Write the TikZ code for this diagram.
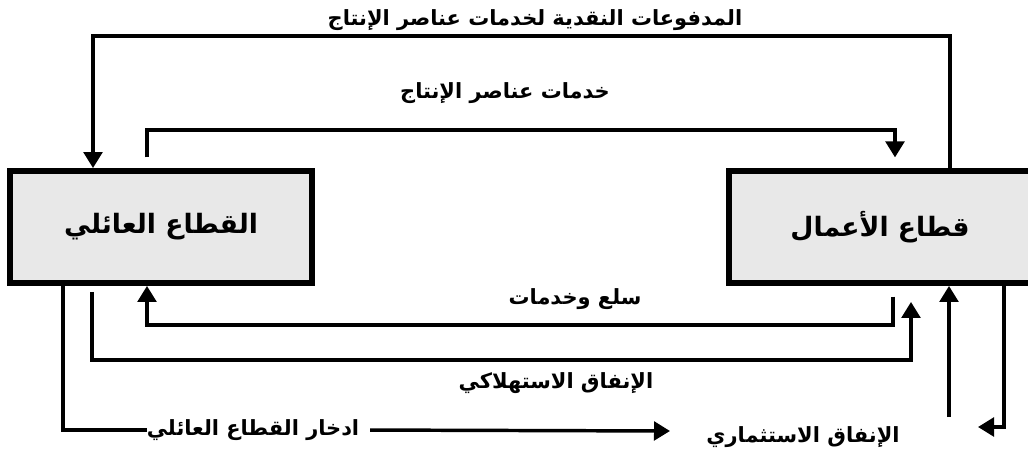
\documentclass[tikz,border=0pt]{standalone}
\usepackage{fontspec}
\newfontfamily\arabicfont[Script=Arabic]{DejaVu Sans}
\TeXXeTstate=1
\usetikzlibrary{arrows.meta}

\tikzset{
  sector/.style={draw, line width=4.4pt, fill=black!9, minimum width=227pt, minimum height=84pt,
    font=\arabicfont\bfseries\fontsize{20}{24}\selectfont},
  lbl/.style={inner sep=0pt, font=\arabicfont\bfseries\fontsize{15.7}{19}\selectfont},
  link/.style={line width=2.6pt},
  flow/.style={link, -{Triangle[length=12pt,width=14pt]}},
}

\begin{document}
\begin{tikzpicture}[x=0.75pt,y=-0.75pt]
    \useasboundingbox (0,0) rectangle (1028,460);
    %%%%%%%%%% Settori %%%%%%%%%%
    \node[sector] (house) at (161,227) {\beginR القطاع العائلي\endR};
    \node[sector] (biz)   at (880,227) {\beginR قطاع الأعمال\endR};

    %%%%%%%%%% Etichette %%%%%%%%%%
    \node[lbl] (pay) at (535,20)  {\beginR المدفوعات النقدية لخدمات عناصر الإنتاج\endR};
    \node[lbl] (srv) at (505,93)  {\beginR خدمات عناصر الإنتاج\endR};
    \node[lbl] (gds) at (575,299) {\beginR سلع وخدمات\endR};
    \node[lbl] (con) at (556,383) {\beginR الإنفاق الاستهلاكي\endR};
    \node[lbl] (sav) at (253,430) {\beginR ادخار القطاع العائلي\endR};
    \node[lbl] (inv) at (803,437) {\beginR الإنفاق الاستثماري\endR};

    %%%%%%%%%% Punti di snodo %%%%%%%%%%
    \coordinate (payR) at (950,36);
    \coordinate (payL) at (93,36);
    \coordinate (srvL) at (147,130);
    \coordinate (srvR) at (895,130);
    \coordinate (gdsR) at (893,325);
    \coordinate (gdsL) at (147,325);
    \coordinate (conL) at (92,360);
    \coordinate (conR) at (911,360);
    \coordinate (savL) at (63,431);
    \coordinate (savR) at (670,431);
    \coordinate (invB) at (949,417);
    \coordinate (retB) at (1004,427);
    \coordinate (retL) at (978,427);

    %%%%%%%%%% Flussi %%%%%%%%%%
    \draw[flow] (biz.north -| payR) |- (payL) -- (house.north -| payL);
    \draw[flow, shorten <=8pt, shorten >=8pt] (house.north -| srvL) |- (srvR) -- (biz.north -| srvR);
    \draw[flow, shorten <=8pt] (biz.south -| gdsR) |- (gdsL) -- (house.south -| gdsL);
    \draw[flow, shorten <=4.5pt, shorten >=12pt] (house.south -| conL) |- (conR) -- (biz.south -| conR);
    \draw[link] (house.south -| savL) |- (sav.west);
    \draw[flow, shorten <=8pt] (sav.east) -- (savR);
    \draw[flow] (invB) -- (biz.south -| invB);
    \draw[flow] (biz.south -| retB) |- (retL);
\end{tikzpicture}
\end{document}
